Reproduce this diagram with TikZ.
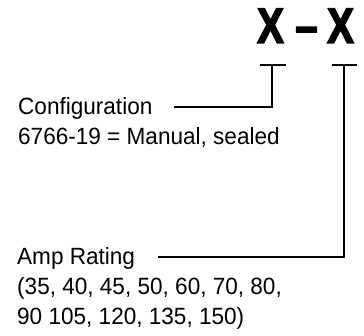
\documentclass[tikz,border=0pt]{standalone}
\usepackage{fontspec}
\setmainfont{Liberation Sans}[FakeStretch=0.96]
\newfontfamily\codefont{Liberation Sans}[UprightFont={* Bold},BoldFont={* Bold},FakeStretch=0.8,FakeBold=3]
\usepackage{tikz}
\usetikzlibrary{calc}

\begin{document}
\begin{tikzpicture}[x=1pt,y=-1pt,
    label/.style={anchor=base west,inner sep=0pt,font=\fontsize{23.5}{30}\selectfont},
    code/.style={anchor=base,inner sep=0pt,font=\codefont\bfseries\fontsize{50}{54}\selectfont},
    lead/.style={line width=1.8pt}]
\useasboundingbox (0,0) rectangle (364,336);

\node[code] (cfgx) at (270.5,43) {X};
\node[code] (dash) at (306.5,43) {\textendash};
\node[code] (ampx) at (340.5,43) {X};

\coordinate (cfgtop) at (273,65);
\coordinate (amptop) at (344.5,65);

\node[label] (cfg) at (18,115) {Configuration};
\node[label] (cfgval) at (18,145) {6766-19 = Manual, sealed};

\node[label] (amp) at (17,265) {Amp Rating};
\node[label] (ampval1) at (17,295) {(35, 40, 45, 50, 60, 70, 80,};
\node[label] (ampval2) at (17,325) {90 105, 120, 135, 150)};

\draw[lead] ($(cfgtop)+(-13,0)$) -- ($(cfgtop)+(13,0)$);
\draw[lead] ($(amptop)+(-12.5,0)$) -- ($(amptop)+(12.5,0)$);

\draw[lead] ([xshift=21pt,yshift=2pt]cfg.east) -| ([xshift=-1pt]cfgtop);
\draw[lead] ([xshift=23pt,yshift=2pt]amp.east) -| ([xshift=-0.5pt]amptop);
\end{tikzpicture}
\end{document}
